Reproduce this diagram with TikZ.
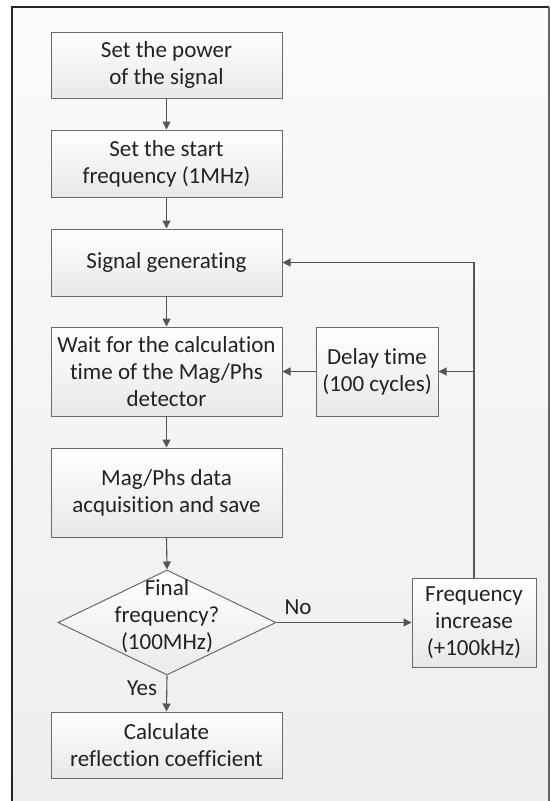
\documentclass[tikz,border=0pt]{standalone}
\usepackage{fontspec}
\setmainfont{Carlito}[Ligatures={NoCommon}]
\usetikzlibrary{shapes.geometric,arrows.meta,shadows,calc}
\definecolor{boxline}{HTML}{6A6A6A}
\definecolor{conn}{HTML}{555555}
\definecolor{txt}{HTML}{222222}
\definecolor{bgtop}{HTML}{FBFBFB}
\definecolor{bgbot}{HTML}{EEEEEE}
\begin{document}
\begin{tikzpicture}[x=1pt,y=-1pt,
  font=\fontsize{23}{27}\selectfont,
  stepbox/.style={draw=boxline,line width=1pt,top color=white,bottom color=black!9,
    text=txt,align=center,inner sep=0pt,minimum width=231pt,
    drop shadow={shadow xshift=1.2pt,shadow yshift=-1.2pt,opacity=.2}},
  decision/.style={draw=boxline,line width=1pt,diamond,top color=white,bottom color=black!8,
    inner sep=0pt,minimum width=218pt,minimum height=105pt},
  conn/.style={draw=conn,line width=1.1pt,-{Triangle[length=8pt,width=8pt]}},
  lbl/.style={text=txt,inner sep=0pt}]
\useasboundingbox (0,0) rectangle (550,801);
% background frame
\fill[white] (0,0) rectangle (550,801);
\shade[top color=bgtop,bottom color=bgbot] (12,7) rectangle (549,801);
\draw[black!85,line width=1.8pt] (12,801) -- (12,7) -- (549,7);
\draw[black!60,line width=1.4pt] (549,7) -- (549,801);
% nodes
\node[stepbox,minimum height=66pt] (b1) at (166.5,65) {Set the power\\of the signal};
\node[stepbox,minimum height=67pt] (b2) at (166.5,163.5) {Set the start\\frequency (1MHz)};
\node[stepbox,minimum height=67pt] (b3) at (166.5,262.5) {Signal generating};
\node[stepbox,minimum height=89pt] (b4) at (166.5,371.5) {Wait for the calculation\\time of the Mag/Phs\\detector};
\node[stepbox,minimum height=89pt,minimum width=122pt] (delay) at (377,371.5) {Delay time\\(100 cycles)};
\node[stepbox,minimum height=89pt] (b5) at (166.5,492.5) {Mag/Phs data\\acquisition and save};
\node[decision] (dia) at (167,622.5) {};
\node[lbl,align=center] (diatext) at (167,616) {Final\\frequency?\\(100MHz)};
\node[stepbox,minimum height=89pt,minimum width=124pt] (freq) at (474,622.5) {Frequency\\increase\\(+100kHz)};
\node[stepbox,minimum height=66pt] (b6) at (166.5,745) {Calculate\\reflection coefficient};
% labels
\node[lbl] (no) at (298,607) {No};
\node[lbl] (yes) at (142,688) {Yes};
% connectors
\draw[conn] (b1.south) -- (b2.north);
\draw[conn] (b2.south) -- (b3.north);
\draw[conn] (b3.south) -- (b4.north);
\draw[conn] (b4.south) -- (b5.north);
\draw[conn] (b5.south) -- (dia.north);
\draw[conn] (dia.south) -- (b6.north);
\draw[conn] (dia.east) -- (freq.west);
\coordinate (loopTop) at (freq.north |- b3.east);
\coordinate (loopMid) at (freq.north |- delay.east);
\draw[conn] (freq.north) -- (loopTop) -- (b3.east);
\draw[conn] (loopMid) -- (delay.east);
\draw[conn] (delay.west) -- (b4.east);
\end{tikzpicture}
\end{document}
